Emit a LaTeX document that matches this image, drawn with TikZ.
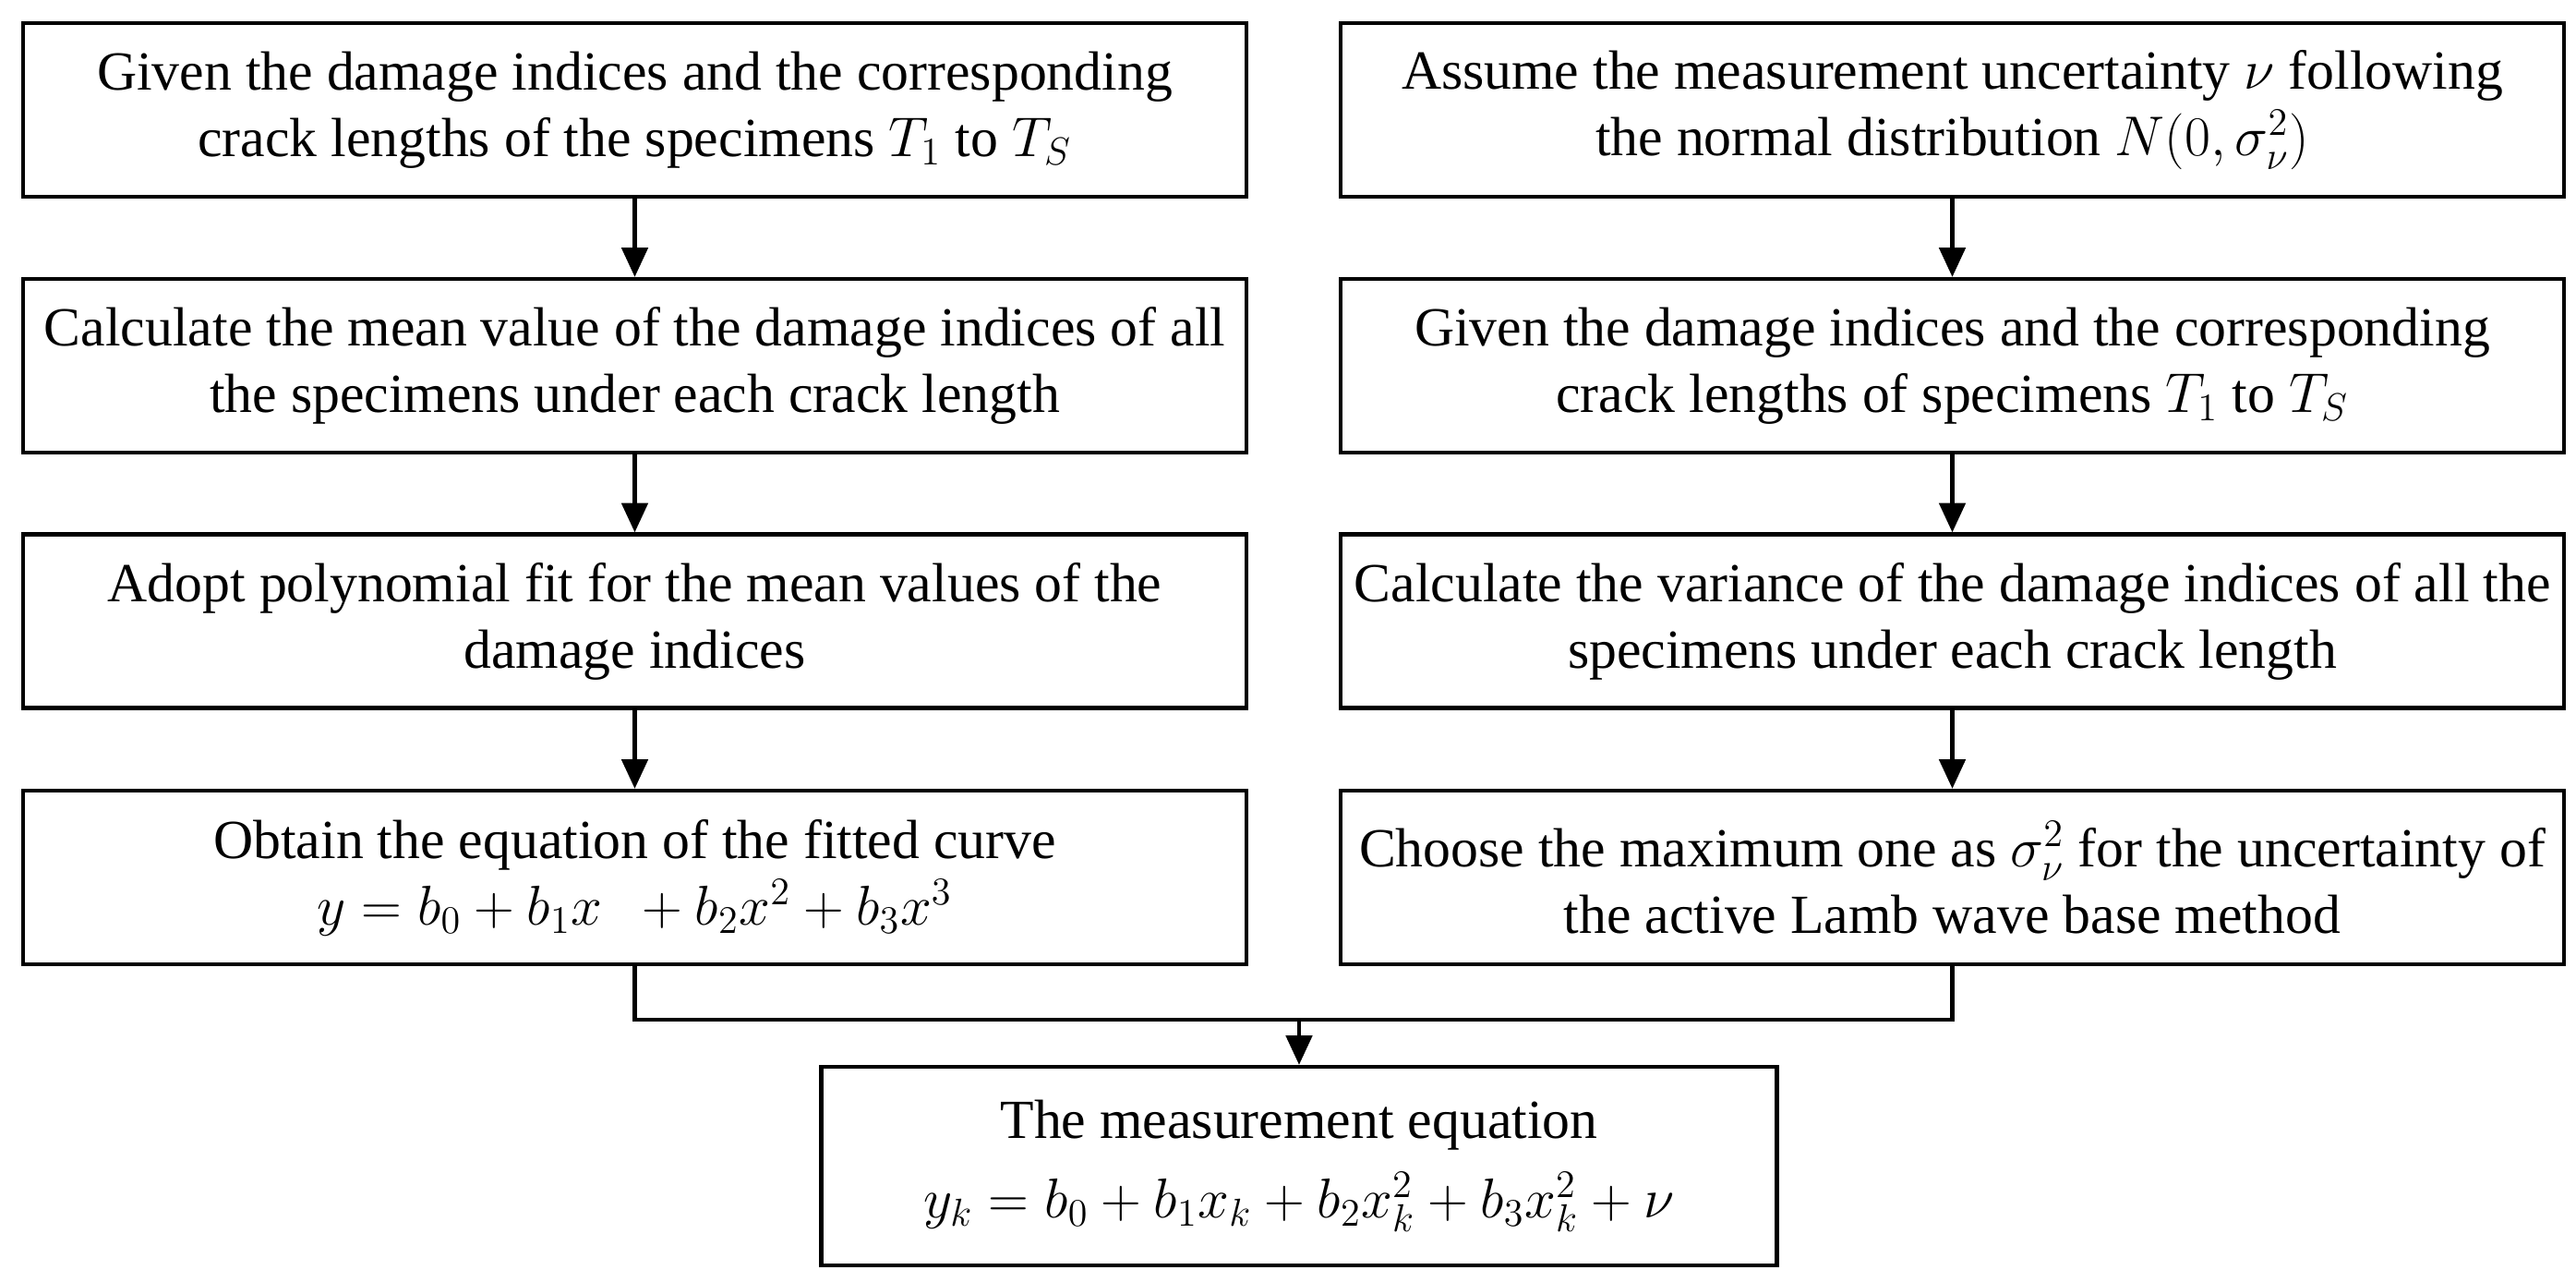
\documentclass[tikz,border=0pt]{standalone}
\usepackage{fontspec}
\setmainfont{Liberation Serif}
\usetikzlibrary{arrows.meta}
\begin{document}
\begin{tikzpicture}[
  box/.style={draw,line width=1.2pt,minimum width=13.25cm,minimum height=1.88cm,align=center,inner sep=0pt,font=\fontsize{17}{20.5}\selectfont},
  arr/.style={line width=1.2pt,-{Triangle[length=9pt,width=8pt]}}]
\useasboundingbox (0,0) rectangle (27.9,13.75);
\node[box] (l1) at (6.875,12.56) {Given the damage indices and the corresponding\\crack lengths of the specimens $T_1$ to $T_S$};
\node[box] (l2) at (6.875,9.79) {Calculate the mean value of the damage indices of all\\the specimens under each crack length};
\node[box] (l3) at (6.875,7.025) {Adopt polynomial fit for the mean values of the\\damage indices};
\node[box] (l4) at (6.875,4.25) {Obtain the equation of the fitted curve\\$y=b_0+b_1x\ \ +b_2x^2+b_3x^3$};
\node[box] (r1) at (21.145,12.56) {Assume the measurement uncertainty $\nu$ following\\the normal distribution $N(0,\sigma_\nu^2)$};
\node[box] (r2) at (21.145,9.79) {Given the damage indices and the corresponding\\crack lengths of specimens $T_1$ to $T_S$};
\node[box] (r3) at (21.145,7.025) {Calculate the variance of the damage indices of all the\\specimens under each crack length};
\node[box] (r4) at (21.145,4.25) {Choose the maximum one as $\sigma_\nu^2$ for the uncertainty of\\the active Lamb wave base method};
\node[box,minimum width=10.35cm,minimum height=2.15cm] (b) at (14.07,1.125) {The measurement equation\\[4pt]$y_k=b_0+b_1x_k+b_2x_k^2+b_3x_k^2+\nu$};
\foreach \a/\c in {l1/l2,l2/l3,l3/l4,r1/r2,r2/r3,r3/r4} \draw[arr] (\a) -- (\c);
\coordinate (m) at (14.07,2.71);
\draw[line width=1.2pt] (l4.south) |- (m) -| (r4.south);
\draw[arr] (m) -- (b.north);
\end{tikzpicture}
\end{document}
